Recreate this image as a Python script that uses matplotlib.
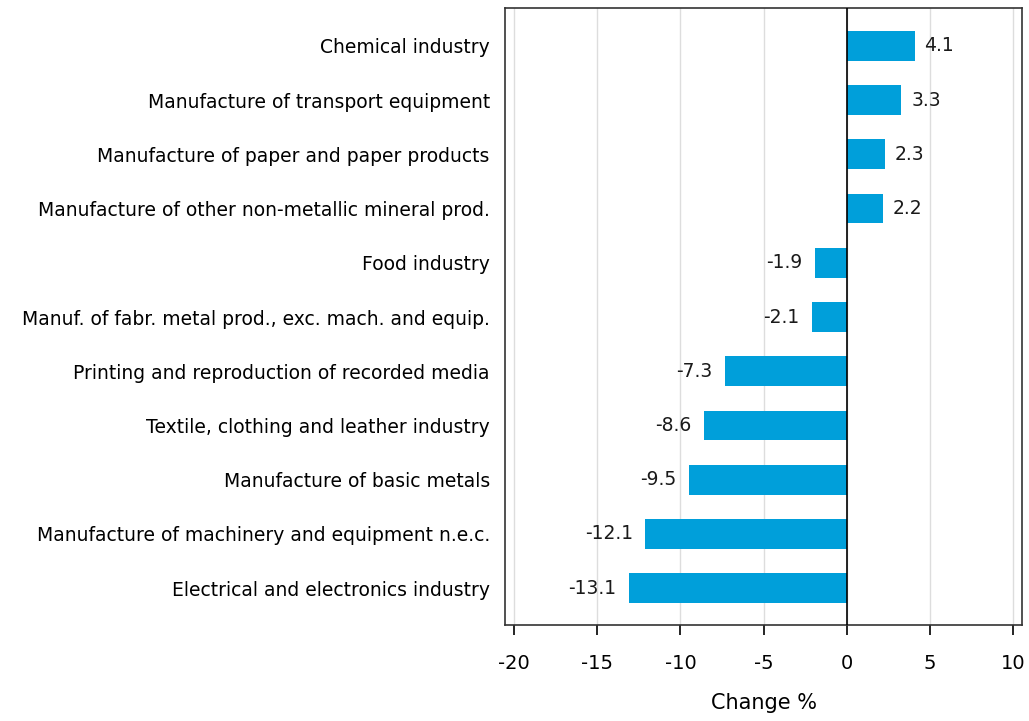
import matplotlib
matplotlib.use("Agg")
import matplotlib.pyplot as plt

categories = [
    "Chemical industry",
    "Manufacture of transport equipment",
    "Manufacture of paper and paper products",
    "Manufacture of other non-metallic mineral prod.",
    "Food industry",
    "Manuf. of fabr. metal prod., exc. mach. and equip.",
    "Printing and reproduction of recorded media",
    "Textile, clothing and leather industry",
    "Manufacture of basic metals",
    "Manufacture of machinery and equipment n.e.c.",
    "Electrical and electronics industry",
]
values = [4.1, 3.3, 2.3, 2.2, -1.9, -2.1, -7.3, -8.6, -9.5, -12.1, -13.1]
xticks = [-20, -15, -10, -5, 0, 5, 10]

plt.rcParams['font.family'] = ['DejaVu Sans']
plt.rcParams['font.size'] = 13.5

fig = plt.figure(figsize=(10.29, 7.21), dpi=100)
ax = fig.add_axes([0.4908, 0.1331, 0.5024, 0.8559])

y = list(range(len(categories)))
ax.barh(y, values, height=0.55, color="#009fda", zorder=3)

for yi, v in zip(y, values):
    if v >= 0:
        ax.annotate("%.1f" % v, (v, yi), xytext=(7, 0), textcoords="offset points",
                    ha="left", va="center", fontsize=13.5, color="#1a1a1a")
    else:
        ax.annotate("%.1f" % v, (v, yi), xytext=(-9, 0), textcoords="offset points",
                    ha="right", va="center", fontsize=13.5, color="#1a1a1a")

ax.axvline(0, color="black", linewidth=1.2, zorder=4)
ax.set_xlim(-20.55, 10.55)
ax.set_ylim(10.68, -0.7)
ax.set_xticks(xticks)
ax.set_xticklabels([str(t) for t in xticks])
ax.set_yticks(y)
ax.set_yticklabels(categories)
ax.tick_params(axis="y", length=0, pad=11)
ax.tick_params(axis="x", direction="out", length=7, width=1.2, pad=14, labelsize=14)
ax.grid(axis="x", color="#dddddd", linewidth=1, zorder=0)
for s in ax.spines.values():
    s.set_color("#333333")
    s.set_linewidth(1.2)
ax.set_xlabel("Change %", fontsize=15, labelpad=14)

fig.savefig("out.png", dpi=100)
